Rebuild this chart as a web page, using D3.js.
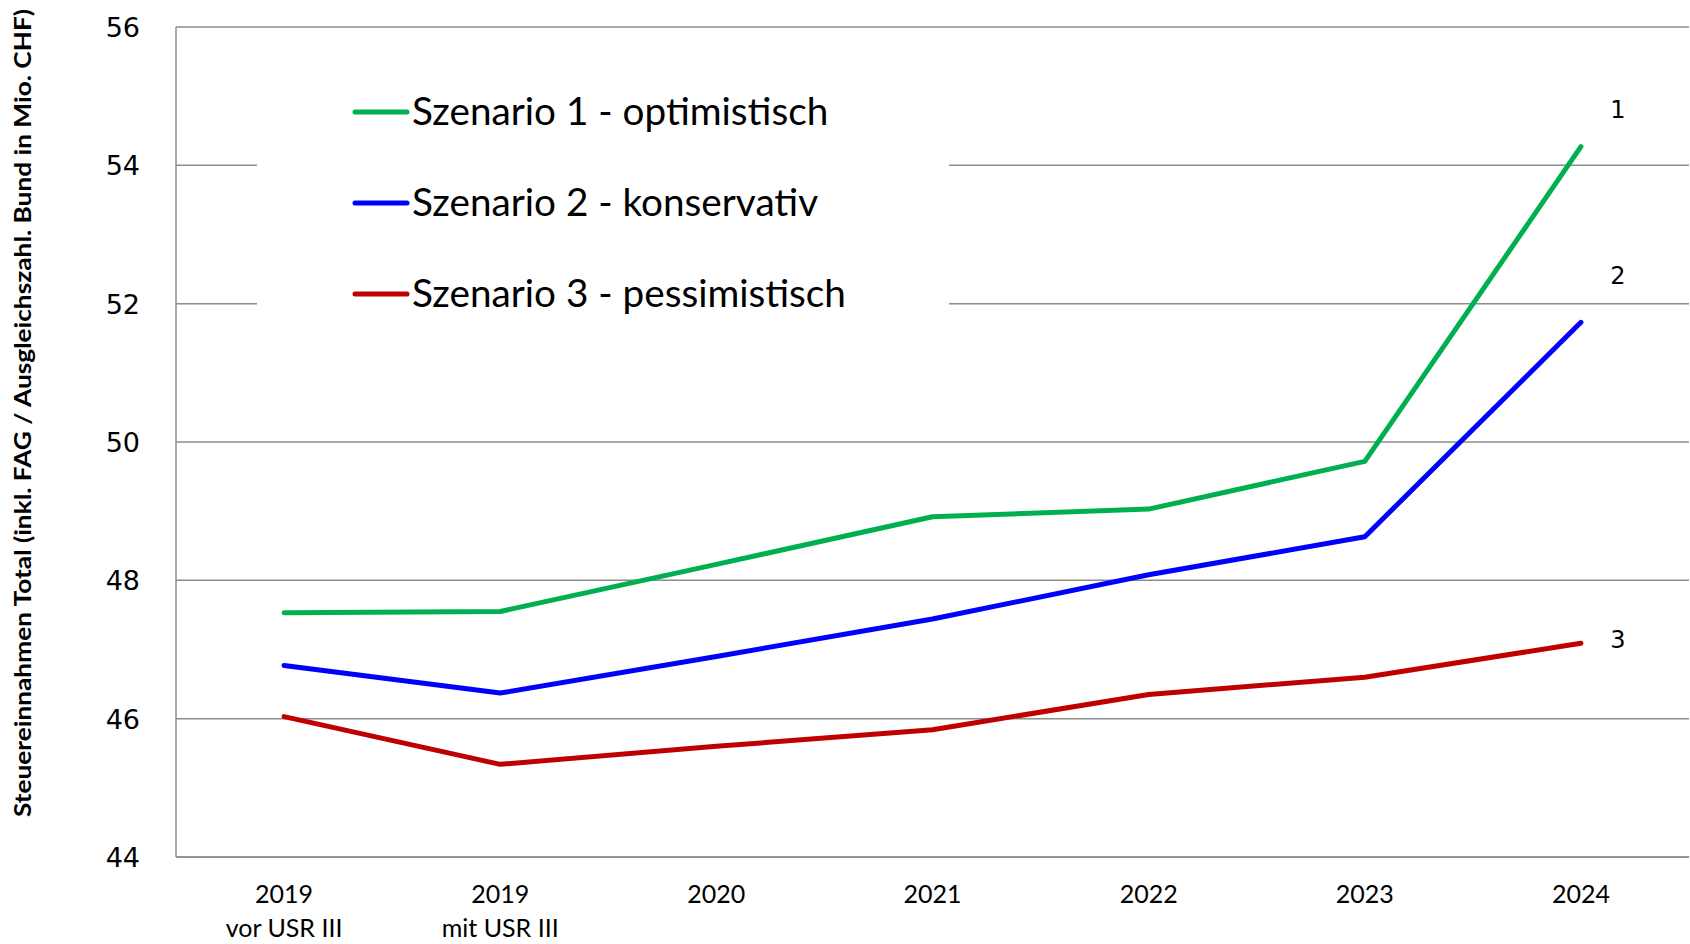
<html>
    <head>
        <style>
        body {
            margin: 0;
            background: white;
        }
        svg {
            display: block;
            font-family: Lato, 'Open Sans', sans-serif;
        }
        .grid line {
            stroke: #8c8c8c;
            stroke-width: 1.5;
        }
        .num {
            font-family: 'DejaVu Sans', sans-serif;
        }
        </style>
    </head>
    <body>
        <svg width="1690" height="944"></svg>

        <script src="https://d3js.org/d3.v7.min.js"></script>

        <script>
            // categories on the x axis (two-line labels)
            let categories = ["2019 vor", "2019 mit", "2020", "2021", "2022", "2023", "2024"]
            let catLine1 = ["2019", "2019", "2020", "2021", "2022", "2023", "2024"]
            let catLine2 = ["vor USR III", "mit USR III", "", "", "", "", ""]

            let yTicks = [44, 46, 48, 50, 52, 54, 56]

            let optimistisch = [47.53, 47.55, 48.23, 48.92, 49.03, 49.72, 54.27]
            let konservativ = [46.77, 46.37, 46.90, 47.44, 48.08, 48.63, 51.73]
            let pessimistisch = [46.03, 45.34, 45.60, 45.84, 46.35, 46.60, 47.09]

            let seriesNames = ["Szenario 1 - optimistisch", "Szenario 2 - konservativ", "Szenario 3 - pessimistisch"]
            let seriesColors = ["#00B050", "#0000FF", "#C00000"]
            let endLabels = ["1", "2", "3"]

            let series = [optimistisch, konservativ, pessimistisch]

            let svg = d3.select("svg")

            let mLeft = 176, mRight = 1689, mTop = 27, mBottom = 857

            let x = d3.scaleBand()
                .domain(categories)
                .range([mLeft, mRight])

            let y = d3.scaleLinear()
                .domain([44, 56])
                .range([mBottom, mTop])

            // gridlines
            svg.append("g")
                .attr("class", "grid")
                .selectAll("line")
                .data(yTicks)
                .enter().append("line")
                .attr("x1", mLeft)
                .attr("x2", mRight)
                .attr("y1", d => y(d))
                .attr("y2", d => y(d))

            // axis lines
            svg.append("line")
                .attr("x1", mLeft).attr("x2", mLeft)
                .attr("y1", mTop).attr("y2", mBottom)
                .style("stroke", "#8c8c8c").style("stroke-width", 1.5)
            svg.append("line")
                .attr("x1", mLeft).attr("x2", mRight)
                .attr("y1", mBottom).attr("y2", mBottom)
                .style("stroke", "#8c8c8c").style("stroke-width", 1.5)

            // y tick labels
            svg.append("g")
                .selectAll("text")
                .data(yTicks)
                .enter().append("text")
                .attr("class", "num")
                .attr("x", 140)
                .attr("y", d => y(d) + 10)
                .attr("text-anchor", "end")
                .style("font-size", "27px")
                .text(d => d)

            // x tick labels
            let xl = svg.append("g")
                .selectAll("text")
                .data(categories)
                .enter().append("text")
                .attr("x", d => x(d) + x.bandwidth() / 2)
                .attr("y", 903)
                .attr("text-anchor", "middle")
                .style("font-size", "25px")
            xl.append("tspan")
                .attr("x", d => x(d) + x.bandwidth() / 2)
                .text((d, i) => catLine1[i])
            xl.append("tspan")
                .attr("x", d => x(d) + x.bandwidth() / 2)
                .attr("dy", 34)
                .text((d, i) => catLine2[i])

            // y axis title
            svg.append("text")
                .attr("transform", "translate(31, 413) rotate(-90)")
                .attr("text-anchor", "middle")
                .attr("textLength", 808)
                .attr("lengthAdjust", "spacingAndGlyphs")
                .style("font-size", "23px")
                .style("font-weight", "bold")
                .text("Steuereinnahmen Total (inkl. FAG / Ausgleichszahl. Bund in Mio. CHF)")

            // legend box, covers the gridlines behind it
            svg.append("rect")
                .attr("x", 257)
                .attr("y", 55)
                .attr("width", 692)
                .attr("height", 275)
                .style("fill", "white")

            let line = d3.line()
                .x((d, i) => x(categories[i]) + x.bandwidth() / 2)
                .y(d => y(d))

            svg.append("g")
                .selectAll("path")
                .data(series)
                .enter().append("path")
                .attr("d", line)
                .style("fill", "none")
                .style("stroke", (d, i) => seriesColors[i])
                .style("stroke-width", 5)
                .style("stroke-linecap", "round")
                .style("stroke-linejoin", "round")

            // end labels
            let endOffset = [29, 38, -5]
            svg.append("g")
                .selectAll("text")
                .data(endLabels)
                .enter().append("text")
                .attr("class", "num")
                .attr("x", 1618)
                .attr("y", (d, i) => y(series[i][6]) - endOffset[i])
                .attr("text-anchor", "middle")
                .style("font-size", "24px")
                .text(d => d)

            // legend
            let legend = svg.append("g")
                .selectAll("g")
                .data(seriesNames)
                .enter().append("g")
                .attr("transform", (d, i) => "translate(355," + (112 + i * 91) + ")")
            legend.append("line")
                .attr("x1", 0).attr("x2", 52)
                .style("stroke", (d, i) => seriesColors[i])
                .style("stroke-width", 5)
                .style("stroke-linecap", "round")
            legend.append("text")
                .attr("x", 57)
                .attr("y", 13)
                .style("font-size", "38.7px")
                .text(d => d)
        </script>
    </body>
</html>
